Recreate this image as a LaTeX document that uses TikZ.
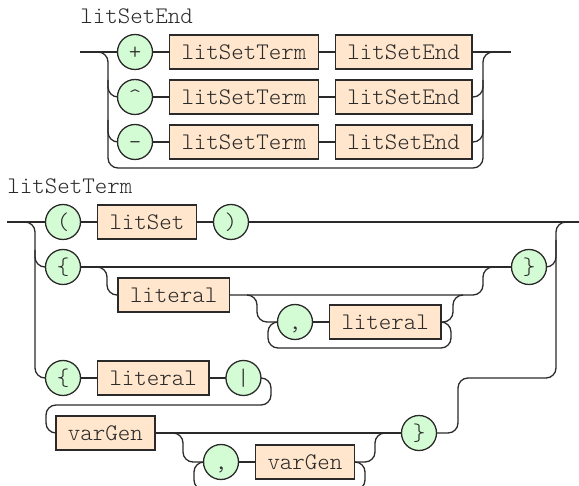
\documentclass[tikz,border=0pt]{standalone}
\usepackage{fontspec}
\setmonofont{Latin Modern Mono Light}
\usetikzlibrary{positioning}
\definecolor{peach}{HTML}{FFE6CC}
\definecolor{mint}{HTML}{D4FCD4}
\definecolor{ink}{HTML}{2A2A2A}
\tikzset{
  nonterm/.style={
    rectangle,draw=ink,fill=peach,line width=.65pt,
    minimum height=17pt,inner xsep=6pt,inner ysep=0pt,outer sep=0pt,
    text height=8pt,text depth=0pt,text=ink,
    font=\ttfamily\fontsize{11.9}{13}\selectfont
  },
  termin/.style={
    circle,draw=ink,fill=mint,line width=.65pt,
    minimum size=17.5pt,inner sep=0pt,outer sep=0pt,
    text height=8pt,text depth=0pt,text=ink,
    font=\ttfamily\fontsize{11.9}{13}\selectfont
  },
  title/.style={anchor=base west,inner sep=0pt,text=ink,
    font=\ttfamily\fontsize{11.9}{13}\selectfont},
  line/.style={draw=ink,line width=.65pt},
  track/.style={draw=ink,line width=.65pt,rounded corners=5pt}
}
\begin{document}
\begin{tikzpicture}[x=0.5pt,y=-0.5pt]
\useasboundingbox (0,0) rectangle (579,486);
\clip (0,0) rectangle (579,486);

% litSetEnd
\node[title] (titleEnd) at (80,24) {litSetEnd};
\node[termin] (plus) at (135,52) {+};
\node[nonterm,right=8.5pt of plus] (termA) {litSetTerm};
\node[nonterm,right=8.5pt of termA] (endA) {litSetEnd};
\node[termin] (caret) at (135,97) {\textasciicircum};
\node[nonterm,right=8.5pt of caret] (termB) {litSetTerm};
\node[nonterm,right=8.5pt of termB] (endB) {litSetEnd};
\node[termin] (minus) at (135,142) {-};
\node[nonterm,right=8.5pt of minus] (termC) {litSetTerm};
\node[nonterm,right=8.5pt of termC] (endC) {litSetEnd};
\coordinate (inA) at (80,52);
\coordinate (outA) at (511,52);

\draw[line] (inA) -- (plus) -- (termA) -- (endA) -- (outA);
\draw[line] (caret) -- (termB) -- (endB);
\draw[line] (minus) -- (termC) -- (endC);
\draw[track] (98,52) -| (108,168) -| (483,52) -- (493,52);
\draw[track] (108,80) |- (caret.west);
\draw[track] (108,120) |- (minus.west);
\draw[track] (endB.east) -| (483,80);
\draw[track] (endC.east) -| (483,120);

% litSetTerm
\node[title] (titleTerm) at (7,194) {litSetTerm};
\node[termin] (lparen) at (63,222) {(};
\node[nonterm,right=8.5pt of lparen] (litSet) {litSet};
\node[termin,right=8.5pt of litSet] (rparen) {)};
\node[termin] (lbraceB) at (63,267) {\{};
\node[termin] (rbraceB) at (529,267) {\}};
\node[nonterm,anchor=west] (literalA) at (118,295) {literal};
\node[termin] (commaA) at (295,322) {,};
\node[nonterm,right=8.5pt of commaA] (literalB) {literal};
\node[termin] (lbraceC) at (63,378) {\{};
\node[nonterm,right=8.5pt of lbraceC] (literalC) {literal};
\node[termin,right=8.5pt of literalC] (bar) {|};
\node[nonterm,anchor=west] (varGenA) at (56,433) {varGen};
\node[termin] (commaB) at (221,462) {,};
\node[nonterm,right=8.5pt of commaB] (varGenB) {varGen};
\node[termin] (rbraceC) at (419,433) {\}};
\coordinate (inB) at (7,222);
\coordinate (outB) at (579,222);

\draw[line] (inB) -- (lparen) -- (litSet) -- (rparen) -- (outB);
\draw[line] (lbraceB) -- (rbraceB);
\draw[track] (25,222) -| (35,378) -- (lbraceC.west);
\draw[track] (35,250) |- (lbraceB.west);
\draw[track] (rbraceB.east) -| (556,240);
\draw[track] (rbraceC.east) -| (458,378) -| (556,222) -- (566,222);

\draw[track] (97,267) -| (107,295) -- (literalA.west);
\draw[track] (literalA.east) -| (483,267) -- (493,267);
\draw[track] (247,295) -| (257,322) -- (commaA.west);
\draw[line] (commaA) -- (literalB);
\draw[track] (literalB.east) -| (453,295) -- (463,295);
\draw[track] (literalB.east) -| (451,348) -| (268,322) -- (commaA.west);

\draw[line] (lbraceC) -- (literalC) -- (bar);
\draw[track] (bar.east) -| (271,405) -| (46,433) -- (varGenA.west);
\draw[line] (varGenA) -- (rbraceC);
\draw[track] (173,433) -| (183,462) -- (commaB.west);
\draw[line] (commaB) -- (varGenB);
\draw[track] (varGenB.east) -| (375,433) -- (385,433);
\draw[track] (varGenB.east) -| (365,490) -| (194,462) -- (commaB.west);
\end{tikzpicture}
\end{document}
